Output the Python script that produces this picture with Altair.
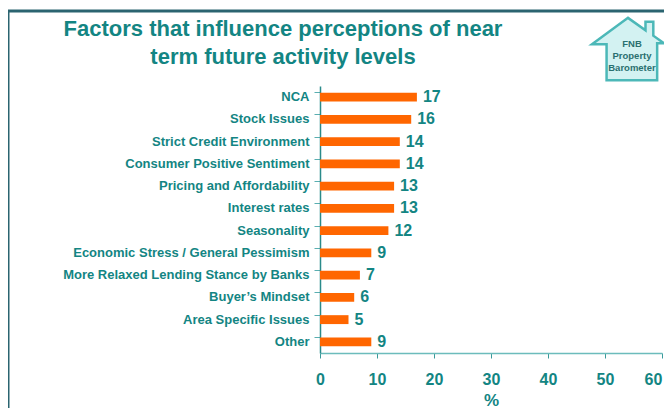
import altair as alt
import pandas as pd

categories = ["NCA", "Stock Issues", "Strict Credit Environment", "Consumer Positive Sentiment",
              "Pricing and Affordability", "Interest rates", "Seasonality",
              "Economic Stress / General Pessimism", "More Relaxed Lending Stance by Banks",
              "Buyer\u2019s Mindset", "Area Specific Issues", "Other"]
values = [17, 16, 14, 14, 13, 13, 12, 9, 7, 6, 5, 9]
x_ticks = [0, 10, 20, 30, 40, 50, 60]
title_lines = ["Factors that influence perceptions of near", "term future activity levels"]
logo_lines = ["FNB", "Property", "Barometer"]

df = pd.DataFrame({"factor": categories, "pct": values})

TEAL = "#138583"
FONT = "Liberation Sans"

y_enc = alt.Y("factor:N", sort=categories, title=None,
              scale=alt.Scale(paddingInner=0.6, paddingOuter=0.3),
              axis=alt.Axis(labelFont=FONT, labelFontSize=13, labelFontWeight="bold",
                            labelColor=TEAL, labelPadding=5, tickSize=6, bandPosition=0,
                            domainColor="#2a8a8a", tickColor="#5aaeb0", domainWidth=1.5,
                            labelLimit=300))
x_enc = alt.X("pct:Q", title="%", scale=alt.Scale(domain=[0, 60], nice=False),
              axis=alt.Axis(values=x_ticks, labelFont=FONT, labelFontSize=16,
                            labelFontWeight="bold", labelColor=TEAL, labelPadding=13,
                            labelFlush=False,
                            labelOffset={"condition": {"test": "datum.value == 60", "value": -9},
                                         "value": 0},
                            tickSize=5, tickColor="#3a9a9a", domainColor="#6cbcbc",
                            domainWidth=1.5, grid=False, titleFont=FONT, titleFontSize=17,
                            titleFontWeight="bold", titleColor=TEAL, titlePadding=5))

bars = alt.Chart(df).mark_bar(color="#ff6600").encode(x=x_enc, y=y_enc)
labels = alt.Chart(df).mark_text(align="left", baseline="middle", dx=6, font=FONT,
                                 fontSize=16, fontWeight="bold", color=TEAL).encode(
    x="pct:Q", y=alt.Y("factor:N", sort=categories), text="pct:Q")

title_df = pd.DataFrame({"t": title_lines, "yy": [-57, -29]})
title = alt.Chart(title_df).mark_text(font=FONT, fontSize=22, fontWeight="bold",
                                      color=TEAL, align="center", baseline="middle").encode(
    x=alt.value(-37), y=alt.Y("yy:Q", scale=None), text="t:N")

frame = alt.Chart(pd.DataFrame({"a": [0]})).mark_rect(
    fill=None, stroke="#2b6470", strokeWidth=3).encode(
    x=alt.value(-312), x2=alt.value(400), y=alt.value(-75), y2=alt.value(400))

house_path = ("M -1 -0.135 L 0 -0.865 L 0.486 -0.52 L 0.486 -0.757 L 0.703 -0.757 "
              "L 0.703 -0.37 L 1 -0.16 L 0.81 -0.16 L 0.81 0.865 L -0.595 0.865 "
              "L -0.595 -0.135 Z")
house = alt.Chart(pd.DataFrame({"a": [0]})).mark_point(
    shape=house_path, size=5184, filled=True, fill="#d3f2f2", stroke="#4cb8b8",
    strokeWidth=2.5, opacity=1).encode(x=alt.value(308), y=alt.value(-37))

logo_df = pd.DataFrame({"t": logo_lines, "yy": [-42, -30, -18]})
logo = alt.Chart(logo_df).mark_text(font=FONT, fontSize=9.5, fontWeight="bold",
                                    color="#2a7070", align="center", baseline="middle").encode(
    x=alt.value(312), y=alt.Y("yy:Q", scale=None), text="t:N")

chart = alt.layer(frame, bars, labels, title, house, logo).properties(
    width=342, height=267,
    autosize=alt.AutoSizeParams(type="none"),
    padding={"left": 312, "top": 78, "right": 2, "bottom": 55},
    background="white",
).configure_view(stroke=None)

chart.save("out.html", embed_options={"renderer": "svg", "actions": False})
